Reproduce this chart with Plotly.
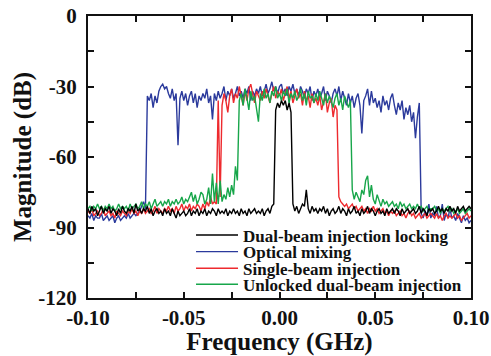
import plotly.graph_objects as go

# Frequency grid (GHz), 1 MHz spacing
freq = [round(-0.100 + 0.001 * i, 3) for i in range(201)]

optical_mixing = [
    -85, -86, -84, -87, -85, -86, -86, -84, -87, -86,
    -85, -87, -86, -85, -88, -86, -85, -87, -86, -85,
    -86, -84, -86, -85, -84, -85, -84, -83, -81, -79,
    -82, -34, -36, -33, -39, -34, -37, -32, -30, -29,
    -31, -30, -33, -35, -31, -36, -33, -55, -35, -32,
    -36, -33, -38, -34, -32, -37, -33, -39, -34, -36,
    -33, -35, -31, -37, -34, -44, -33, -36, -32, -35,
    -33, -30, -36, -32, -34, -31, -35, -33, -30, -34,
    -32, -35, -31, -33, -30, -36, -32, -34, -31, -33,
    -30, -34, -32, -29, -33, -31, -28, -32, -30, -33,
    -30, -29, -33, -31, -34, -30, -32, -29, -33, -31,
    -34, -30, -32, -35, -31, -33, -30, -36, -32, -34,
    -31, -35, -33, -30, -36, -32, -34, -37, -33, -31,
    -34, -30, -36, -32, -35, -38, -33, -37, -34, -39,
    -35, -33, -38, -50, -36, -34, -31, -38, -32, -37,
    -35, -39, -36, -41, -34, -38, -36, -40, -35, -33,
    -38, -42, -37, -40, -36, -44, -39, -42, -38, -45,
    -41, -52, -43, -37, -84, -86, -83, -85, -80, -86,
    -84, -85, -81, -86, -85, -80, -87, -84, -86, -82,
    -86, -85, -87, -84, -86, -88, -85, -87, -86, -88, -87,
]

single_beam = [
    -83, -84, -82, -85, -84, -83, -85, -84, -82, -85,
    -84, -83, -85, -84, -86, -83, -84, -85, -83, -84,
    -85, -83, -84, -82, -84, -83, -85, -83, -84, -82,
    -84, -83, -82, -84, -83, -81, -84, -82, -83, -84,
    -82, -83, -81, -83, -82, -84, -81, -83, -82, -80,
    -83, -81, -82, -80, -83, -81, -82, -80, -81, -83,
    -80, -82, -79, -81, -77, -80, -79, -80, -36, -77,
    -38, -33, -36, -41, -34, -31, -37, -33, -35, -30,
    -34, -38, -32, -36, -31, -29, -33, -37, -32, -34,
    -36, -32, -35, -31, -34, -37, -33, -30, -35, -32,
    -34, -31, -36, -33, -30, -35, -32, -37, -34, -31,
    -35, -33, -38, -32, -36, -34, -39, -33, -37, -35,
    -38, -34, -40, -36, -33, -41, -37, -35, -43, -38,
    -40, -77, -79, -80, -81, -80, -82, -81, -80, -82,
    -81, -83, -82, -81, -83, -82, -84, -82, -83, -81,
    -83, -82, -84, -83, -82, -84, -83, -85, -83, -84,
    -83, -85, -84, -83, -85, -84, -86, -84, -83, -85,
    -84, -86, -85, -84, -86, -85, -84, -86, -85, -84,
    -85, -86, -84, -86, -85, -87, -85, -84, -86, -85,
    -86, -85, -84, -86, -85, -87, -86, -85, -84, -86, -85,
]

unlocked_dual = [
    -82, -81, -83, -81, -82, -80, -82, -81, -83, -81,
    -82, -80, -82, -81, -83, -82, -80, -82, -81, -82,
    -81, -83, -80, -82, -81, -80, -82, -81, -79, -82,
    -80, -81, -79, -82, -80, -78, -81, -80, -79, -81,
    -79, -80, -78, -81, -79, -80, -78, -80, -79, -77,
    -80, -78, -79, -77, -75, -79, -76, -80, -78, -75,
    -76, -80, -78, -73, -80, -67, -79, -71, -80, -70,
    -79, -76, -78, -73, -77, -72, -76, -64, -70, -36,
    -33, -38, -31, -35, -40, -32, -36, -34, -39, -45,
    -33, -36, -31, -35, -33, -37, -32, -34, -30, -35,
    -33, -36, -32, -34, -31, -37, -33, -35, -32, -36,
    -34, -31, -36, -33, -38, -32, -35, -34, -37, -33,
    -36, -32, -35, -38, -33, -37, -34, -36, -39, -35,
    -33, -38, -35, -40, -34, -37, -39, -36, -74, -78,
    -75, -77, -79, -74, -76, -70, -68, -77, -72, -78,
    -80, -76, -79, -81, -78, -80, -79, -81, -80, -79,
    -81, -80, -82, -79, -81, -80, -82, -81, -80, -82,
    -81, -82, -80, -82, -81, -83, -82, -81, -83, -82,
    -82, -81, -83, -82, -84, -82, -83, -82, -81, -83,
    -82, -84, -83, -82, -84, -83, -82, -84, -83, -82, -83,
]

dual_locking = [
    -82, -84, -81, -83, -82, -85, -83, -81, -84, -82,
    -83, -81, -84, -82, -83, -85, -82, -84, -81, -83,
    -84, -82, -83, -81, -84, -80, -83, -82, -84, -82,
    -83, -81, -84, -82, -85, -83, -82, -84, -83, -85,
    -82, -84, -83, -85, -82, -84, -86, -83, -85, -84,
    -83, -85, -84, -82, -85, -83, -84, -82, -85, -83,
    -84, -82, -85, -83, -84, -82, -83, -85, -82, -84,
    -83, -84, -82, -85, -83, -84, -82, -84, -83, -85,
    -82, -84, -83, -85, -82, -84, -83, -82, -84, -83,
    -84, -82, -85, -83, -82, -84, -81, -80, -40, -37,
    -39, -36, -38, -36, -40, -37, -41, -80, -83, -81,
    -84, -82, -80, -81, -74, -82, -84, -81, -83, -82,
    -84, -82, -83, -81, -84, -82, -85, -83, -82, -84,
    -83, -81, -84, -82, -83, -85, -82, -84, -83, -81,
    -84, -83, -85, -82, -84, -83, -81, -84, -82, -83,
    -85, -83, -82, -84, -83, -85, -82, -84, -83, -82,
    -84, -82, -83, -85, -82, -84, -83, -82, -84, -83,
    -82, -84, -83, -81, -84, -82, -83, -85, -82, -83,
    -82, -84, -83, -81, -83, -82, -84, -82, -83, -81,
    -83, -82, -84, -81, -83, -82, -81, -83, -82, -81, -82,
]

series_names = [
    "Dual-beam injection locking",
    "Optical mixing",
    "Single-beam injection",
    "Unlocked dual-beam injection",
]
series_values = [dual_locking, optical_mixing, single_beam, unlocked_dual]
series_colors = ["#000000", "#2b3a9c", "#ee2a2e", "#17a64a"]
draw_order = [1, 2, 3, 0]

x_tickvals = [-0.10, -0.05, 0.00, 0.05, 0.10]
x_ticktext = ["-0.10", "-0.05", "0.00", "0.05", "0.10"]
y_tickvals = [0, -30, -60, -90, -120]
y_ticktext = ["0", "-30", "-60", "-90", "-120"]

for v in series_values:
    assert len(v) == len(freq), len(v)

SERIF = "Liberation Serif"
fig = go.Figure()

legend_rows_y = [0.222, 0.163, 0.104, 0.047]
legend_ids = ["legend", "legend2", "legend3", "legend4"]

for k in draw_order:
    fig.add_trace(go.Scatter(
        x=freq, y=series_values[k], mode="lines", name=series_names[k],
        line=dict(color=series_colors[k], width=1.4),
        legend=legend_ids[k],
    ))

legend_common = dict(
    x=0.269, xanchor="left", yanchor="middle",
    bgcolor="rgba(0,0,0,0)", borderwidth=0,
    font=dict(family=SERIF, size=17, color="#111", weight="bold"),
    itemwidth=42, tracegroupgap=0,
)
layout_legends = {}
for lid, ly in zip(legend_ids, legend_rows_y):
    layout_legends[lid] = dict(legend_common, y=ly)

axis_common = dict(
    showline=True, linecolor="#111", linewidth=2, mirror="ticks",
    ticks="inside", ticklen=6, tickwidth=1.5, tickcolor="#111",
    showgrid=False, zeroline=False, automargin=False,
    tickfont=dict(family=SERIF, size=21, color="#111", weight="bold"),
)

fig.update_layout(
    width=491, height=356,
    margin=dict(l=88, r=20, t=16, b=58, autoexpand=False),
    paper_bgcolor="white", plot_bgcolor="white",
    showlegend=True,
    **layout_legends,
)
fig.update_xaxes(
    range=[-0.10, 0.10], tickvals=x_tickvals, ticktext=x_ticktext,
    minor=dict(dtick=0.025, tick0=0, ticks="inside", ticklen=6, tickwidth=1.5, tickcolor="#111"),
    title=dict(text="Frequency (GHz)", font=dict(family=SERIF, size=25, color="#111", weight="bold"), standoff=2),
    **axis_common,
)
fig.update_yaxes(
    range=[-120, 0], tickvals=y_tickvals, ticktext=y_ticktext,
    ticklabelstandoff=5,
    minor=dict(dtick=15, tick0=0, ticks="inside", ticklen=6, tickwidth=1.5, tickcolor="#111"),
    title=dict(text="Magnitude (dB)", font=dict(family=SERIF, size=25, color="#111", weight="bold"), standoff=0),
    **axis_common,
)

fig.write_html(
    "out.html",
    config={"displayModeBar": False},
    post_script="document.body.style.margin='0';document.body.style.overflow='hidden';",
)
